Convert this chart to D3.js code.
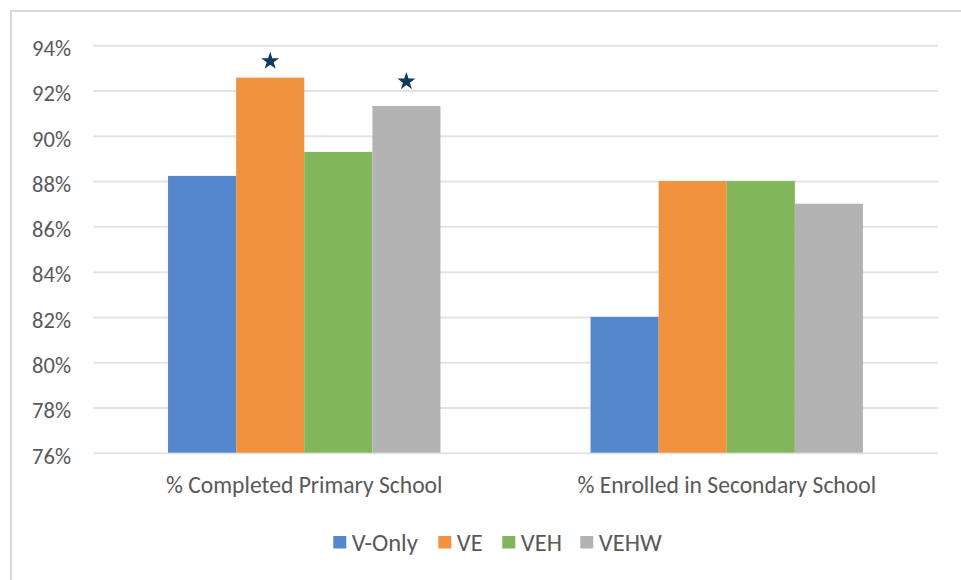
<!DOCTYPE html>
<html><head><meta charset="utf-8">
<script src="https://cdn.jsdelivr.net/npm/d3@7"></script>
<style>body{margin:0;background:#fff}svg{display:block}text{font-family:Calibri,Carlito,"Open Sans","Noto Sans",sans-serif}</style>
</head><body>
<script>
const categories = ["% Completed Primary School", "% Enrolled in Secondary School"];
const seriesNames = ["V-Only", "VE", "VEH", "VEHW"];
const colors = ["#5587CD", "#F09240", "#82B65A", "#B3B3B3"];
const vOnly = [88.23, 82.0];
const ve = [92.57, 88.0];
const veh = [89.29, 88.0];
const vehw = [91.32, 87.0];
// significance stars: series, category, value level where the star sits
const starSeries = ["VE", "VEHW"];
const starCategory = ["% Completed Primary School", "% Completed Primary School"];
const starLevel = [93.3, 92.4];
const yTicks = [76, 78, 80, 82, 84, 86, 88, 90, 92, 94];

(function () {
const seriesValues = [vOnly, ve, veh, vehw];
const W = 961, H = 580;
const svg = d3.select("body").append("svg").attr("width", W).attr("height", H);

// frame
svg.append("rect").attr("x", 11).attr("y", 11).attr("width", 1000).attr("height", 1000)
  .attr("fill", "none").attr("stroke", "#d9d9d9").attr("stroke-width", 2);

const mL = 93, mR = 938, mT = 45.3, mB = 452.7;
const y = d3.scaleLinear().domain([76, 94]).range([mB, mT]);
const x0 = d3.scaleBand().domain(categories).range([mL, mR]).paddingInner(0.3552).paddingOuter(0.1776);
const x1 = d3.scaleBand().domain(seriesNames).range([0, x0.bandwidth()]);

// grid
const yAxis = d3.axisLeft(y).tickValues(yTicks).tickSize(-(mR - mL)).tickFormat(d => d + "%");
const gy = svg.append("g").attr("transform", `translate(${mL},0)`).call(yAxis);
gy.select(".domain").remove();
gy.selectAll(".tick line").attr("stroke", "#e3e3e3").attr("stroke-width", 2);
gy.selectAll(".tick text").attr("x", -22).attr("fill", "#595959").attr("font-size", 22.5).attr("dy", "0.46em");

// bars
categories.forEach((c, ci) => {
  seriesNames.forEach((s, si) => {
    const v = seriesValues[si][ci];
    svg.append("rect")
      .attr("x", x0(c) + x1(s)).attr("width", x1.bandwidth())
      .attr("y", y(v)).attr("height", y(76) - y(v))
      .attr("fill", colors[si]);
  });
});

// stars
const starSym = d3.symbol().type(d3.symbolStar).size(100);
starLevel.forEach((lv, i) => {
  const cx = x0(starCategory[i]) + x1(starSeries[i]) + x1.bandwidth() / 2;
  svg.append("path").attr("d", starSym()).attr("transform", `translate(${cx},${y(lv)})`).attr("fill", "#0d3a5c");
});

// category labels
const xAxis = d3.axisBottom(x0).tickSize(0);
const gx = svg.append("g").attr("transform", `translate(0,${mB})`).call(xAxis);
gx.select(".domain").remove();
gx.selectAll(".tick text").attr("fill", "#595959").attr("font-size", 23.6).attr("dy", 0).attr("y", 40.5);

// legend
const legendX = [333.3, 438.3, 502.3, 580.3];
const lg = svg.append("g");
seriesNames.forEach((s, i) => {
  lg.append("rect").attr("x", legendX[i]).attr("y", 536).attr("width", 13).attr("height", 12.5).attr("fill", colors[i]);
  lg.append("text").attr("x", legendX[i] + 18.5).attr("y", 550.5).attr("fill", "#595959").attr("font-size", 24.5).text(s);
});
})();
</script>
</body></html>
